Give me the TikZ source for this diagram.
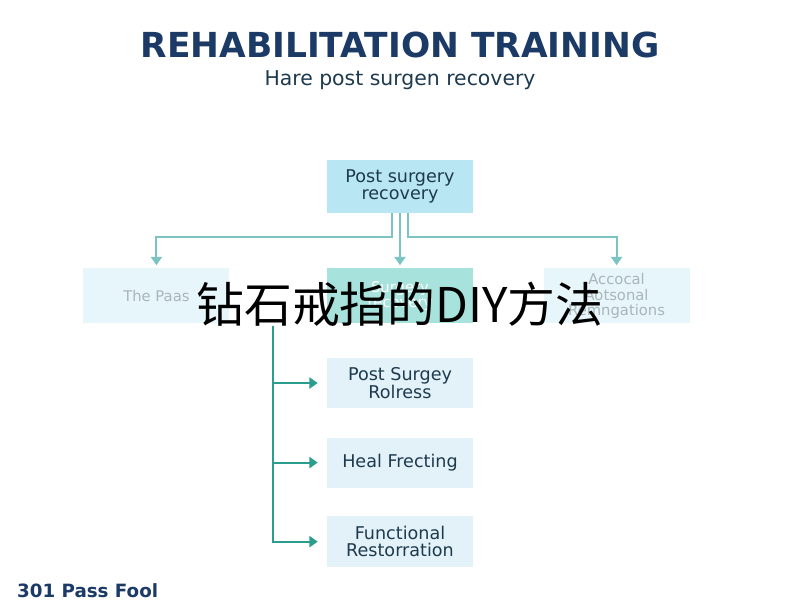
\documentclass[tikz,border=0pt]{standalone}
\usepackage{fontspec}
\setmainfont{DejaVu Sans}
\newfontfamily\cjkfont{Noto Sans CJK SC}
\usepackage{tikz}
\usetikzlibrary{positioning,arrows.meta}

\definecolor{titlenavy}{HTML}{1B3A66}
\definecolor{textdark}{HTML}{1E3A4E}
\definecolor{boxcyan}{HTML}{B8E6F3}
\definecolor{boxpale}{HTML}{E3F2F8}
\definecolor{boxfaint}{HTML}{E6F6FA}
\definecolor{boxteal}{HTML}{A8E2DC}
\definecolor{linelight}{HTML}{7CC4C4}
\definecolor{linedark}{HTML}{2A9D8F}
\definecolor{fadedtext}{HTML}{A9B6BA}

\tikzset{
  stepbox/.style={fill=boxpale, minimum width=3.65cm, minimum height=1.25cm,
    align=center, text=textdark, font=\fontsize{12.5}{12.5}\selectfont, inner sep=2pt},
  topbox/.style={stepbox, fill=boxcyan, minimum height=1.325cm},
  fadedbox/.style={stepbox, fill=boxfaint, minimum height=1.375cm, text=fadedtext,
    font=\fontsize{10.5}{11}\selectfont},
  upperarrow/.style={draw=linelight, line width=1.4pt, -{Triangle[width=8pt,length=6pt]}},
  lowerarrow/.style={draw=linedark, line width=1.4pt, -{Triangle[width=8pt,length=6pt]}}
}

\begin{document}
\begin{tikzpicture}
\useasboundingbox[fill=white] (0,0) rectangle (20,-15);

\node[font=\bfseries\fontsize{24.5}{28}\selectfont, text=titlenavy] (title) at (10,-1.12) {REHABILITATION TRAINING};
\node[below = 0.08cm of title, font=\fontsize{14.5}{16}\selectfont, text=textdark] (subtitle) {Hare post surgen recovery};

\node[topbox] (top) at (10,-4.66) {Post surgery\\recovery};
\node[fadedbox, fill=boxteal, text=white, below = 1.375cm of top] (mid) {Surgery\\recovery};
\node[fadedbox, left = 2.425cm of mid] (left) {The Paas};
\node[fadedbox, right = 1.75cm of mid] (right) {Accocal\\Aotsonal\\Remngations};

\node[stepbox, below = 0.85cm of mid] (psr) {Post Surgey\\Rolress};
\node[stepbox, below = 0.725cm of psr] (heal) {Heal Frecting};
\node[stepbox, below = 0.7cm of heal, minimum height=1.275cm] (func) {Functional\\Restorration};

\coordinate[below = 0.6cm of top.south] (fork);
\path[upperarrow] ([xshift=-0.2cm]top.south) |- ([xshift=-0.2cm]fork) -| ([yshift=0.075cm]left.north);
\path[upperarrow] (top.south) -- ([yshift=0.075cm]mid.north);
\path[upperarrow] ([xshift=0.2cm]top.south) |- ([xshift=0.2cm]fork) -| ([yshift=0.075cm]right.north);

\coordinate[below left = 0.05cm and 1.35cm of mid.south west] (trunk);
\path[lowerarrow] (trunk) |- ([xshift=-0.225cm]func.west);
\path[lowerarrow] (trunk |- psr.west) -- ([xshift=-0.225cm]psr.west);
\path[lowerarrow] (trunk |- heal.west) -- ([xshift=-0.225cm]heal.west);

\node[font=\cjkfont\fontsize{34}{40}\selectfont, text=black] (overlay) at (10,-7.6) {钻石戒指的DIY方法};

\node[anchor=base west, font=\bfseries\fontsize{13}{15}\selectfont, text=titlenavy, inner sep=0pt] (footer) at (0.42,-14.93) {301 Pass Fool};
\end{tikzpicture}
\end{document}
